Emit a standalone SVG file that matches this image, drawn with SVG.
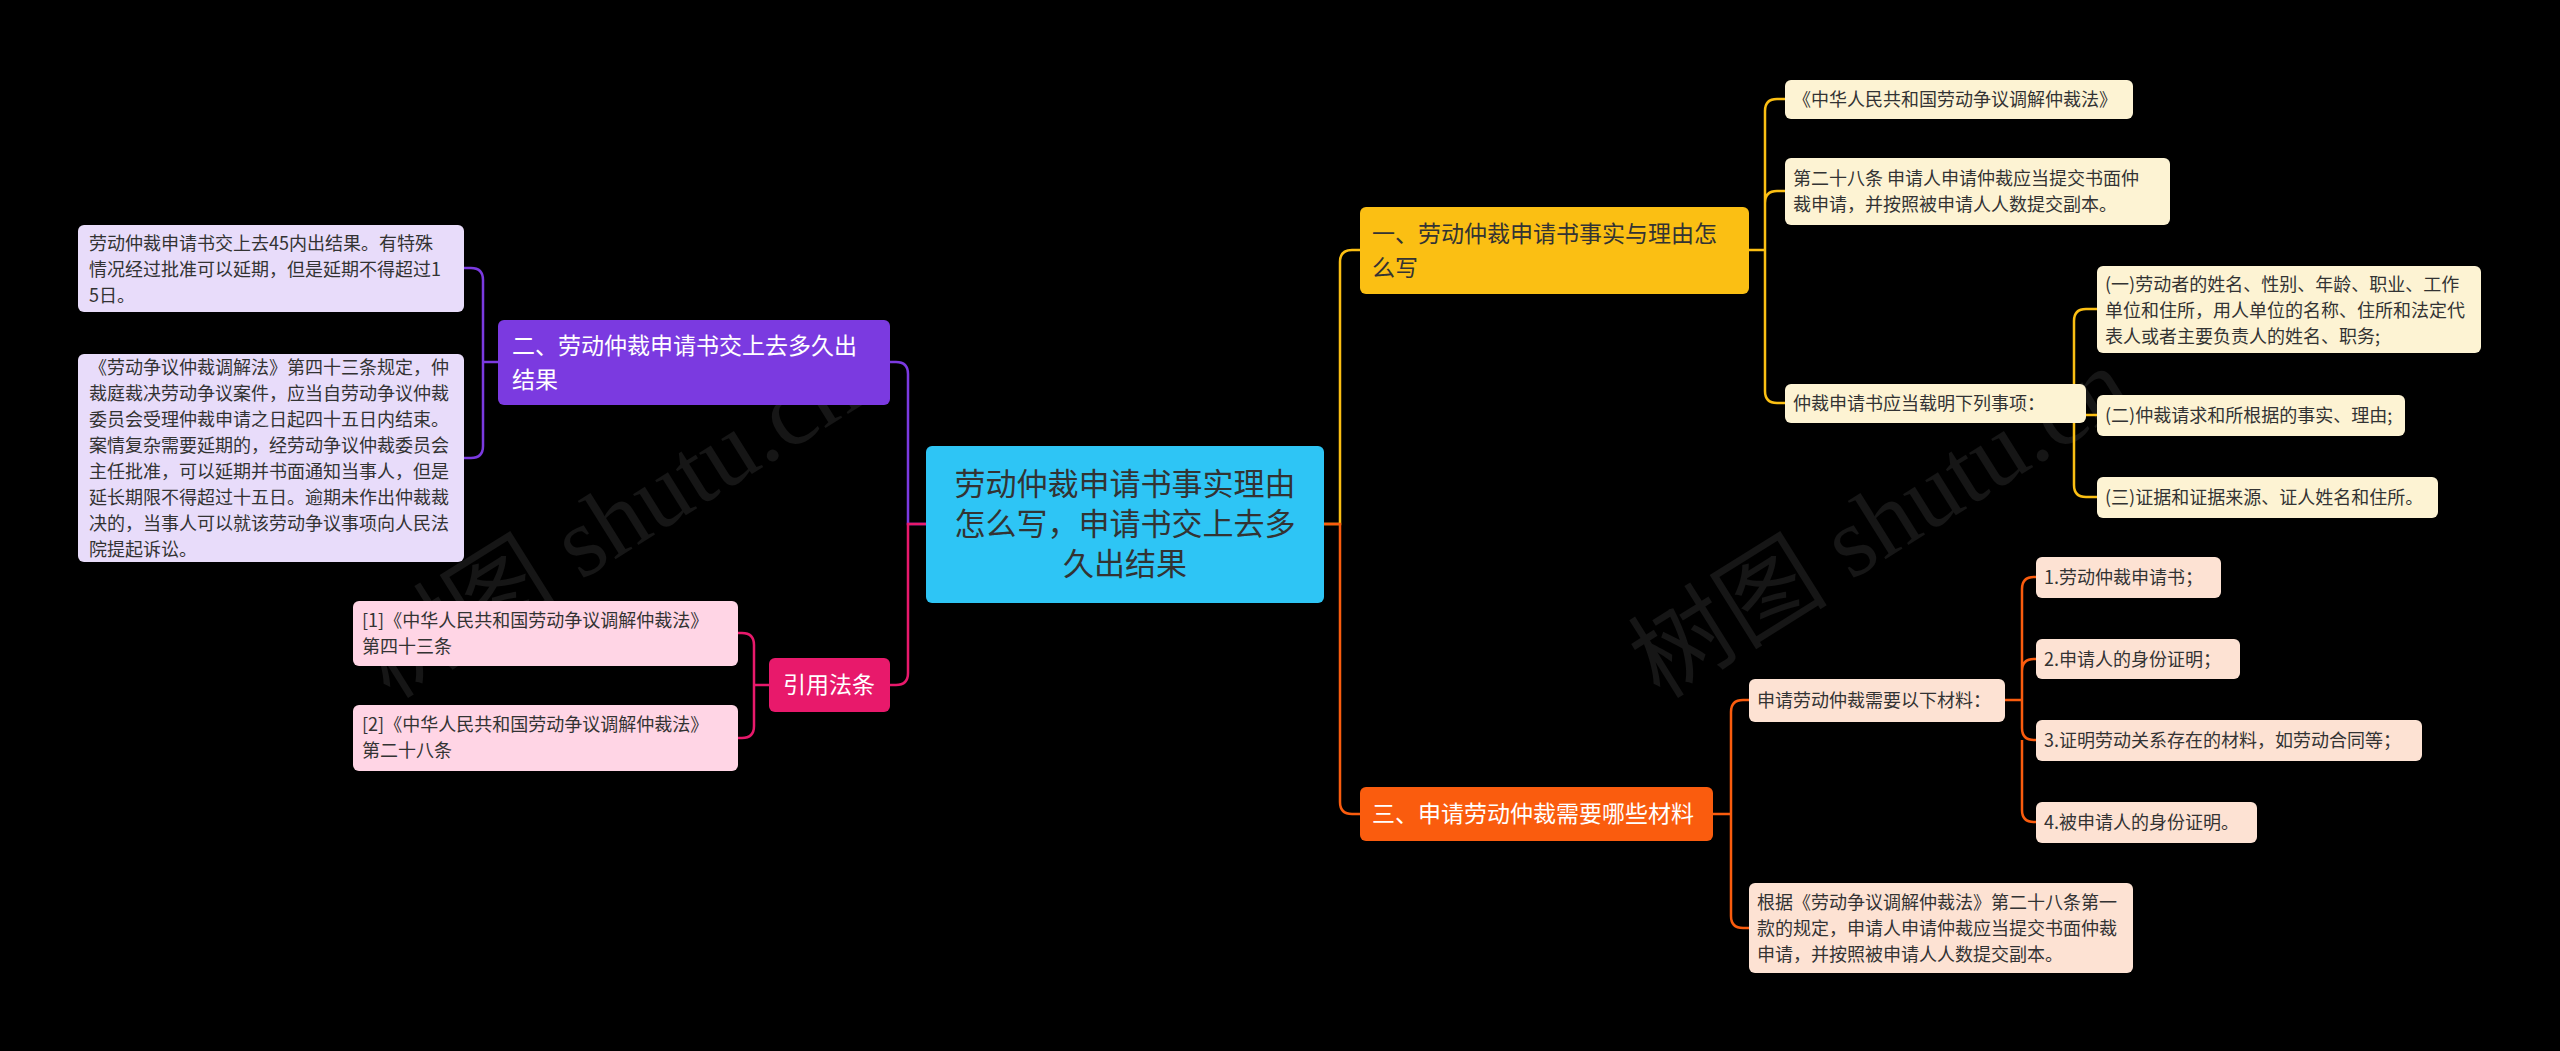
<svg xmlns="http://www.w3.org/2000/svg" width="2560" height="1051" viewBox="0 0 2560 1051">
<style>
text{font-family:"Noto Sans CJK SC","Noto Sans",sans-serif;}
.l{font-size:18px;fill:#333;}
.m{font-size:23px;}
.w{fill:#fff;}
.c path{fill:none;stroke-width:2.5;}
.wm{font-family:"Liberation Serif","Noto Sans CJK SC",serif;font-size:100px;fill:#161616;}
</style>
<rect width="2560" height="1051" fill="#000"/>
<text class="wm" transform="translate(390,700) rotate(-32)">树图 shutu.cn</text>
<text class="wm" transform="translate(1660,700) rotate(-32)">树图 shutu.cn</text>
<g class="c">
<path stroke="#fbbf13" d="M1324,524 H1340 V262 Q1340,250 1352,250 H1360"/>
<path stroke="#fa5c0e" d="M1324,524 H1340 V802 Q1340,814 1352,814 H1360"/>
<path stroke="#7b3ae0" d="M926,524 H908 V374 Q908,362 896,362 H890"/>
<path stroke="#e8196b" d="M926,524 H908 V673 Q908,685 896,685 H890"/>
<path stroke="#7b3ae0" d="M498,362 H483 V280 Q483,268 471,268 H464 M483,362 V446 Q483,458 471,458 H464"/>
<path stroke="#e8196b" d="M769,685 H754 V645 Q754,633 742,633 H738 M754,685 V726 Q754,738 742,738 H738"/>
<path stroke="#fbbf13" d="M1749,250 H1765 V111 Q1765,99 1777,99 H1785 M1765,250 V203 Q1765,191 1777,191 H1785 M1765,250 V391 Q1765,403 1777,403 H1785"/>
<path stroke="#fbbf13" d="M2086,403 H2074 V321 Q2074,309 2086,309 H2097 M2074,403 Q2074,415 2086,415 H2097 M2074,415 V485 Q2074,497 2086,497 H2097"/>
<path stroke="#fa5c0e" d="M1713,814 H1731 V712 Q1731,700 1743,700 H1749 M1731,814 V916 Q1731,928 1743,928 H1749"/>
<path stroke="#fa5c0e" d="M2005,700 H2022 V589 Q2022,577 2034,577 H2036 M2022,700 V671 Q2022,659 2034,659 H2036 M2022,700 V728 Q2022,740 2034,740 H2036 M2022,740 V810 Q2022,822 2034,822 H2036"/>
</g>
<g id="center"><rect x="926" y="446" width="398" height="157" rx="6" fill="#2ec5f5"/>
<text x="1125" font-size="31" fill="#333" text-anchor="middle"><tspan y="495">劳动仲裁申请书事实理由</tspan><tspan x="1125" y="535">怎么写，申请书交上去多</tspan><tspan x="1125" y="575">久出结果</tspan></text></g>
<g id="n2"><rect x="498" y="320" width="392" height="85" rx="6" fill="#7b3ae0"/>
<text class="m w" x="512"><tspan y="354">二、劳动仲裁申请书交上去多久出</tspan><tspan x="512" y="388">结果</tspan></text></g>
<g id="n2a"><rect x="78" y="225" width="386" height="87" rx="6" fill="#e8dcfa"/>
<text class="l" x="89"><tspan y="250">劳动仲裁申请书交上去45内出结果。有特殊</tspan><tspan x="89" y="276">情况经过批准可以延期，但是延期不得超过1</tspan><tspan x="89" y="302">5日。</tspan></text></g>
<g id="n2b"><rect x="78" y="354" width="386" height="208" rx="6" fill="#e8dcfa"/>
<text class="l" x="89"><tspan y="374">《劳动争议仲裁调解法》第四十三条规定，仲</tspan><tspan x="89" y="400">裁庭裁决劳动争议案件，应当自劳动争议仲裁</tspan><tspan x="89" y="426">委员会受理仲裁申请之日起四十五日内结束。</tspan><tspan x="89" y="452">案情复杂需要延期的，经劳动争议仲裁委员会</tspan><tspan x="89" y="478">主任批准，可以延期并书面通知当事人，但是</tspan><tspan x="89" y="504">延长期限不得超过十五日。逾期未作出仲裁裁</tspan><tspan x="89" y="530">决的，当事人可以就该劳动争议事项向人民法</tspan><tspan x="89" y="556">院提起诉讼。</tspan></text></g>
<g id="ref"><rect x="769" y="658" width="121" height="54" rx="6" fill="#e8196b"/>
<text class="m w" x="829" y="693" text-anchor="middle">引用法条</text></g>
<g id="ref1"><rect x="353" y="601" width="385" height="65" rx="6" fill="#ffd5e5"/>
<text class="l" x="362"><tspan y="627">[1]《中华人民共和国劳动争议调解仲裁法》</tspan><tspan x="362" y="653">第四十三条</tspan></text></g>
<g id="ref2"><rect x="353" y="705" width="385" height="66" rx="6" fill="#ffd5e5"/>
<text class="l" x="362"><tspan y="731">[2]《中华人民共和国劳动争议调解仲裁法》</tspan><tspan x="362" y="757">第二十八条</tspan></text></g>
<g id="n1"><rect x="1360" y="207" width="389" height="87" rx="6" fill="#fbbf13"/>
<text class="m" fill="#333" x="1372"><tspan y="242">一、劳动仲裁申请书事实与理由怎</tspan><tspan x="1372" y="276">么写</tspan></text></g>
<g id="n1a"><rect x="1785" y="80" width="348" height="39" rx="6" fill="#fdf3d3"/><text class="l" x="1793" y="106">《中华人民共和国劳动争议调解仲裁法》</text></g>
<g id="n1b"><rect x="1785" y="158" width="385" height="67" rx="6" fill="#fdf3d3"/>
<text class="l" x="1793"><tspan y="185">第二十八条 申请人申请仲裁应当提交书面仲</tspan><tspan x="1793" y="211">裁申请，并按照被申请人人数提交副本。</tspan></text></g>
<g id="n1c"><rect x="1785" y="384" width="301" height="39" rx="6" fill="#fdf3d3"/><text class="l" x="1793" y="410">仲裁申请书应当载明下列事项：</text></g>
<g id="n1c1"><rect x="2097" y="266" width="384" height="87" rx="6" fill="#fdf3d3"/>
<text class="l" x="2105"><tspan y="291">(一)劳动者的姓名、性别、年龄、职业、工作</tspan><tspan x="2105" y="317">单位和住所，用人单位的名称、住所和法定代</tspan><tspan x="2105" y="343">表人或者主要负责人的姓名、职务;</tspan></text></g>
<g id="n1c2"><rect x="2097" y="395" width="308" height="41" rx="6" fill="#fdf3d3"/><text class="l" x="2105" y="422">(二)仲裁请求和所根据的事实、理由;</text></g>
<g id="n1c3"><rect x="2097" y="477" width="341" height="41" rx="6" fill="#fdf3d3"/><text class="l" x="2105" y="504">(三)证据和证据来源、证人姓名和住所。</text></g>
<g id="n3"><rect x="1360" y="787" width="353" height="54" rx="6" fill="#fa5c0e"/><text class="m w" x="1372" y="822">三、申请劳动仲裁需要哪些材料</text></g>
<g id="n3a"><rect x="1749" y="679" width="256" height="43" rx="6" fill="#fde2d3"/><text class="l" x="1757" y="707">申请劳动仲裁需要以下材料：</text></g>
<g id="n3a1"><rect x="2036" y="557" width="185" height="41" rx="6" fill="#fde2d3"/><text class="l" x="2044" y="584">1.劳动仲裁申请书；</text></g>
<g id="n3a2"><rect x="2036" y="639" width="204" height="40" rx="6" fill="#fde2d3"/><text class="l" x="2044" y="666">2.申请人的身份证明；</text></g>
<g id="n3a3"><rect x="2036" y="720" width="386" height="41" rx="6" fill="#fde2d3"/><text class="l" x="2044" y="747">3.证明劳动关系存在的材料，如劳动合同等；</text></g>
<g id="n3a4"><rect x="2036" y="802" width="221" height="41" rx="6" fill="#fde2d3"/><text class="l" x="2044" y="829">4.被申请人的身份证明。</text></g>
<g id="n3b"><rect x="1749" y="883" width="384" height="90" rx="6" fill="#fde2d3"/>
<text class="l" x="1757"><tspan y="909">根据《劳动争议调解仲裁法》第二十八条第一</tspan><tspan x="1757" y="935">款的规定，申请人申请仲裁应当提交书面仲裁</tspan><tspan x="1757" y="961">申请，并按照被申请人人数提交副本。</tspan></text></g>
</svg>
